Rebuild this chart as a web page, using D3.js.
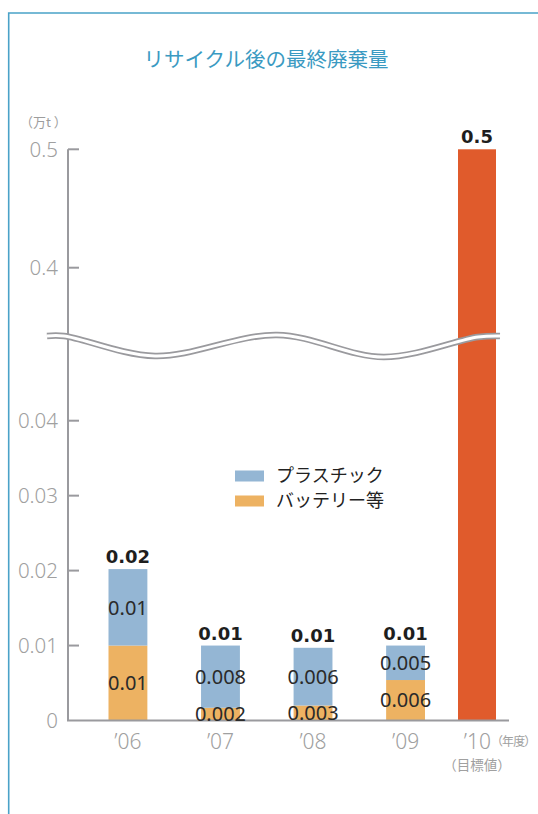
<!DOCTYPE html>
<html><head><meta charset="utf-8">
<script src="https://cdn.jsdelivr.net/npm/d3@7"></script>
<style>
html,body{margin:0;padding:0;background:#fff;}
svg{display:block;}
</style></head>
<body>
<script>
// ---- data ----
const years = ["’06", "’07", "’08", "’09"];
const targetYear = "’10";
const battery = [0.01, 0.0017, 0.002, 0.0054];      // バッテリー等 (drawn heights)
const plastic = [0.0102, 0.0083, 0.0077, 0.0046];   // プラスチック (drawn heights)
const batteryLabels = ["0.01", "0.002", "0.003", "0.006"];
const plasticLabels = ["0.01", "0.008", "0.006", "0.005"];
const totalLabels = ["0.02", "0.01", "0.01", "0.01"];
const target = 0.5;            // '10 目標値
const targetLabel = "0.5";
const upperTicks = [0.4, 0.5];
const lowerTicks = [0, 0.01, 0.02, 0.03, 0.04];
const seriesNames = ["プラスチック", "バッテリー等"];

const W = 538, H = 814;
const colPlastic = "#94b6d4", colBattery = "#edb262", colTarget = "#e05b2c";
const axisCol = "#9a9a9e", tickTextCol = "#a0a0a0";
const jp = "'Noto Sans CJK JP','Noto Sans',sans-serif";
const num = "'Noto Sans','Open Sans',sans-serif";
const bold = "'DejaVu Sans','Liberation Sans',sans-serif";

const svg = d3.select("body").append("svg").attr("width", W).attr("height", H);

// frame
svg.append("path").attr("d", `M8.7,${H} V13 H${W}`).attr("fill", "none")
  .attr("stroke", "#4aa2c8").attr("stroke-width", 1.6);

// title
svg.append("text").attr("x", 266).attr("y", 67).attr("text-anchor", "middle")
  .attr("font-family", jp).attr("font-size", 20.5).attr("fill", "#3a9ac2")
  .text("リサイクル後の最終廃棄量");

// unit
svg.append("text").attr("x", 20).attr("y", 127).attr("font-family", jp)
  .attr("font-size", 13).attr("fill", "#9d9d9d").text("（万t ）");

// scales
const x = d3.scaleBand().domain(years).range([108.5, 425]).paddingInner(0.58).paddingOuter(0);
const xT = d3.scaleBand().domain([targetYear]).range([458, 496]);
const yUp = d3.scaleLinear().domain([0.4, 0.5]).range([267.7, 149.3]);
const yLo = d3.scaleLinear().domain([0, 0.04]).range([720.5, 420.7]);
const axisX = 68;

// lower stacked bars
const g = svg.append("g");
years.forEach((yr, i) => {
  const b1 = battery[i], p1 = battery[i] + plastic[i];
  g.append("rect").attr("x", x(yr)).attr("width", x.bandwidth())
    .attr("y", yLo(b1)).attr("height", yLo(0) - yLo(b1)).attr("fill", colBattery);
  g.append("rect").attr("x", x(yr)).attr("width", x.bandwidth())
    .attr("y", yLo(p1)).attr("height", yLo(b1) - yLo(p1)).attr("fill", colPlastic);
});

// target bar (spans break)
svg.append("rect").attr("x", xT(targetYear)).attr("width", xT.bandwidth())
  .attr("y", yUp(target)).attr("height", yLo(0) - yUp(target)).attr("fill", colTarget);

// y axis line
svg.append("line").attr("x1", axisX).attr("x2", axisX).attr("y1", yUp(0.5)).attr("y2", yLo(0))
  .attr("stroke", axisCol).attr("stroke-width", 2);

// ticks
function drawTicks(ticks, scale, fmt) {
  ticks.forEach(t => {
    if (t !== 0) {
      svg.append("line").attr("x1", axisX).attr("x2", axisX + 11)
        .attr("y1", scale(t)).attr("y2", scale(t)).attr("stroke", axisCol).attr("stroke-width", 2);
    }
    svg.append("text").attr("x", 58).attr("y", scale(t)).attr("dy", "0.36em")
      .attr("text-anchor", "end").attr("font-family", num).attr("font-weight", 300)
      .attr("font-size", 20.5).attr("fill", tickTextCol).text(fmt(t));
  });
}
drawTicks(upperTicks, yUp, d3.format(".1f"));
drawTicks(lowerTicks, yLo, t => t === 0 ? "0" : d3.format(".2f")(t));

// x axis line
svg.append("line").attr("x1", axisX - 1).attr("x2", 509).attr("y1", yLo(0)).attr("y2", yLo(0))
  .attr("stroke", axisCol).attr("stroke-width", 2);

// break (double wavy line)
const wave = d3.line().curve(d3.curveCatmullRom.alpha(0.5));
const wavePts = [[47, 336], [64, 336], [155, 356], [277, 335], [384, 357], [478, 337], [500, 336]];
svg.append("path").attr("d", wave(wavePts)).attr("fill", "none")
  .attr("stroke", axisCol).attr("stroke-width", 6.5);
svg.append("path").attr("d", wave(wavePts)).attr("fill", "none")
  .attr("stroke", "#fff").attr("stroke-width", 3);

// segment labels
years.forEach((yr, i) => {
  const cx = x(yr) + x.bandwidth() / 2;
  const b1 = battery[i], p1 = battery[i] + plastic[i];
  svg.append("text").attr("x", cx).attr("y", (yLo(0) + yLo(b1)) / 2).attr("dy", "0.36em")
    .attr("text-anchor", "middle").attr("font-family", num).attr("font-size", 20)
    .attr("fill", "#2a2a2a").text(batteryLabels[i]);
  svg.append("text").attr("x", cx).attr("y", (yLo(b1) + yLo(p1)) / 2).attr("dy", "0.36em")
    .attr("text-anchor", "middle").attr("font-family", num).attr("font-size", 20)
    .attr("fill", "#2a2a2a").text(plasticLabels[i]);
  svg.append("text").attr("x", cx).attr("y", yLo(p1) - 6)
    .attr("text-anchor", "middle").attr("font-family", bold)
    .attr("font-weight", "bold").attr("font-size", 18).attr("fill", "#1e1e1e").text(totalLabels[i]);
});
svg.append("text").attr("x", xT(targetYear) + xT.bandwidth() / 2).attr("y", yUp(target) - 6)
  .attr("text-anchor", "middle").attr("font-family", bold)
  .attr("font-weight", "bold").attr("font-size", 18).attr("fill", "#1e1e1e").text(targetLabel);

// x labels
years.forEach(yr => {
  svg.append("text").attr("x", x(yr) + x.bandwidth() / 2).attr("y", 748.5)
    .attr("text-anchor", "middle").attr("font-family", num).attr("font-weight", 300)
    .attr("font-size", 21).attr("fill", tickTextCol).text(yr);
});
svg.append("text").attr("x", 491).attr("y", 748.5)
  .attr("text-anchor", "end").attr("font-family", num).attr("font-weight", 300)
  .attr("font-size", 21).attr("fill", tickTextCol).text(targetYear);
svg.append("text").attr("x", 491).attr("y", 746).attr("font-family", jp)
  .attr("font-size", 12).attr("letter-spacing", -0.9).attr("fill", tickTextCol).text("（年度）");
svg.append("text").attr("x", 477).attr("y", 770)
  .attr("text-anchor", "middle").attr("font-family", jp)
  .attr("font-size", 13.5).attr("fill", tickTextCol).text("（目標値）");

// legend
const legCols = [colPlastic, colBattery];
seriesNames.forEach((n, i) => {
  const ly = 476 + i * 25;
  svg.append("rect").attr("x", 235).attr("y", ly - 5.5).attr("width", 29).attr("height", 11)
    .attr("fill", legCols[i]);
  svg.append("text").attr("x", 276).attr("y", ly).attr("dy", "0.36em")
    .attr("font-family", jp).attr("font-size", 18).attr("fill", "#222").text(n);
});
</script>
</body></html>
